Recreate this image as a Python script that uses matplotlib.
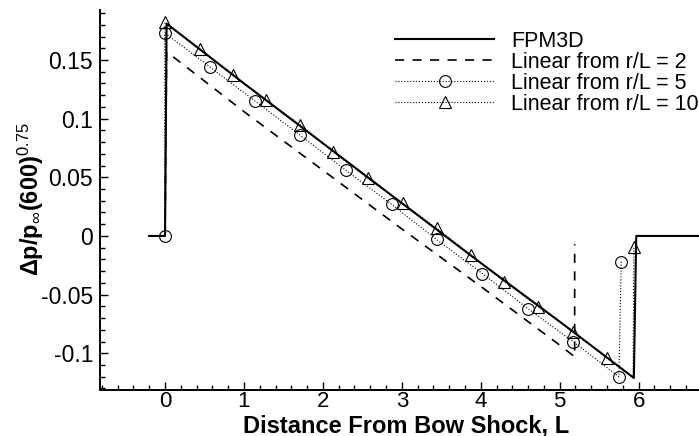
import matplotlib
matplotlib.use("Agg")
import matplotlib.pyplot as plt
from matplotlib.ticker import MultipleLocator, FixedLocator, FixedFormatter

plt.rcParams['font.family'] = ['Liberation Sans', 'DejaVu Sans']
plt.rcParams['mathtext.fontset'] = 'custom'
plt.rcParams['mathtext.rm'] = 'Liberation Sans'
plt.rcParams['mathtext.it'] = 'Liberation Sans:italic'
plt.rcParams['mathtext.bf'] = 'Liberation Sans:bold'

# FPM3D pressure signature
fpm_x = [-0.2, 0.0, 0.02, 1.0, 2.0, 3.0, 4.0, 5.0, 5.94, 5.97, 7.0]
fpm_y = [0.0, 0.0, 0.181, 0.130, 0.079, 0.028, -0.023, -0.073, -0.121, 0.0, 0.0]

# Linear extrapolation from r/L = 2
lin2_x = [0.0, 0.02, 1.0, 2.0, 3.0, 4.0, 5.0, 5.19, 5.19]
lin2_y = [0.0, 0.157, 0.106, 0.056, 0.006, -0.043, -0.093, -0.103, -0.007]

# Linear extrapolation from r/L = 5
lin5_x = [0.0, 0.0, 0.57, 1.14, 1.71, 2.29, 2.87, 3.44, 4.02, 4.60, 5.17, 5.75, 5.78]
lin5_y = [0.0, 0.173, 0.144, 0.115, 0.086, 0.056, 0.027, -0.003, -0.032, -0.062, -0.090, -0.120, -0.022]

# Linear extrapolation from r/L = 10
lin10_x = [0.0, 0.0, 0.445, 0.86, 1.28, 1.715, 2.13, 2.57, 3.01, 3.44, 3.875, 4.30, 4.73, 5.17, 5.60, 5.93, 5.94]
lin10_y = [0.0, 0.182, 0.159, 0.137, 0.116, 0.0946, 0.0718, 0.049, 0.0278, 0.0066, -0.0162, -0.0389, -0.0602, -0.0815, -0.104, -0.121, -0.009]

x_ticks = [0, 1, 2, 3, 4, 5, 6]
x_tick_labels = ['0', '1', '2', '3', '4', '5', '6']
y_ticks = [-0.1, -0.05, 0.0, 0.05, 0.1, 0.15]
y_tick_labels = ['-0.1', '-0.05', '0', '0.05', '0.1', '0.15']

W, H = 699, 436
fig = plt.figure(figsize=(W / 100, H / 100), dpi=100)
ax_l, ax_r, ax_t, ax_b = 100, 712, 10, 390
ax = fig.add_axes([ax_l / W, 1 - ax_b / H, (ax_r - ax_l) / W, (ax_b - ax_t) / H])

ax.plot(fpm_x, fpm_y, color='black', lw=1.5, ls='-', label='FPM3D')
ax.plot(lin2_x, lin2_y, color='black', lw=1.2, ls=(0, (5.5, 5)), label='Linear from r/L = 2')
ax.plot(lin5_x, lin5_y, color='black', lw=0.8, ls=':', marker='o', ms=8.5,
        mfc='none', mec='black', mew=0.8, label='Linear from r/L = 5')
mk10 = [i for i in range(len(lin10_x)) if i not in (0, len(lin10_x) - 2)]
ax.plot(lin10_x, lin10_y, color='black', lw=0.8, ls=':', marker='^', ms=9,
        mfc='none', mec='black', mew=0.8, markevery=mk10, label='Linear from r/L = 10')

ax.set_xlim(-0.824, 6.93)
ax.set_ylim(-0.1313, 0.1926)

ax.xaxis.set_major_locator(FixedLocator(x_ticks))
ax.xaxis.set_major_formatter(FixedFormatter(x_tick_labels))
ax.xaxis.set_minor_locator(MultipleLocator(0.2))
ax.yaxis.set_major_locator(FixedLocator(y_ticks))
ax.yaxis.set_major_formatter(FixedFormatter(y_tick_labels))
ax.yaxis.set_minor_locator(MultipleLocator(0.01))

ax.tick_params(which='both', direction='in', top=False, right=False, width=1.0, color='black')
ax.tick_params(which='major', length=6)
ax.tick_params(which='minor', length=3.5)
ax.tick_params(axis='x', which='major', labelsize=16, pad=0.5)
ax.tick_params(axis='y', which='major', labelsize=16.5, pad=5)

for side in ('top', 'right'):
    ax.spines[side].set_visible(False)
for side in ('left', 'bottom'):
    ax.spines[side].set_linewidth(1.4)

ax.set_xlabel('Distance From Bow Shock, L', fontsize=17, fontweight='bold')
ax.xaxis.set_label_coords(0.5, (ax_b - 414.5) / (ax_b - ax_t))
ax.xaxis.label.set_va('top')

ax.set_ylabel(r'$\mathbf{\Delta}$p/p$_{\infty}$(600)$^{0.75}$', fontsize=17, fontweight='bold')
ax.yaxis.set_label_coords((46 - ax_l) / (ax_r - ax_l), (ax_b - 199) / (ax_b - ax_t))

leg = ax.legend(loc='upper left', bbox_to_anchor=(395 / W, 1 - 31 / H),
                bbox_transform=fig.transFigure, frameon=False, fontsize=15.5,
                handlelength=4.6, handletextpad=0.8, labelspacing=0.0,
                borderpad=0, borderaxespad=0, numpoints=1)

fig.savefig('out.png', dpi=100)
